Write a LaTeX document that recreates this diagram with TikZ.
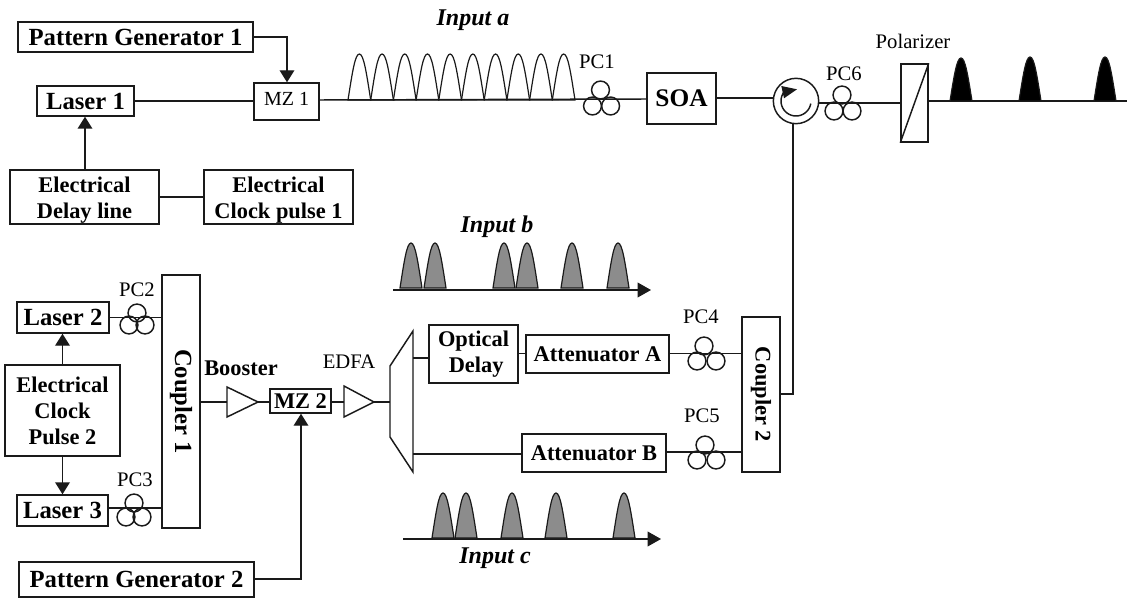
\documentclass[tikz,border=0pt]{standalone}
\usepackage{fontspec}
\setmainfont{Liberation Serif}
\usetikzlibrary{arrows.meta,calc}
\definecolor{pulsegray}{HTML}{8C8C8C}
\definecolor{ink}{HTML}{1A1A1A}
\newcommand{\boldbig}{\fontsize{16.8}{19.5}\selectfont\bfseries}
\newcommand{\boldhuge}{\fontsize{18.5}{19.5}\selectfont\bfseries}
\newcommand{\regmid}{\fontsize{15.5}{18}\selectfont}
\newcommand{\boldit}{\fontsize{18}{20}\selectfont\bfseries\itshape}
\tikzset{
  box/.style={draw=ink,line width=1.1pt,inner sep=0pt,align=center,font=\boldbig},
  lbl/.style={inner sep=0pt,font=\regmid},
  blbl/.style={inner sep=0pt,font=\boldbig},
  ilbl/.style={inner sep=0pt,font=\boldit},
  pcring/.style={draw=ink,line width=1.1pt,circle,inner sep=0pt,minimum size=13.4pt},
  wire/.style={draw=ink,line width=1.1pt},
  ctl/.style={wire,-{Triangle[length=9pt,width=11pt]}},
  axis/.style={wire,-{Triangle[length=10pt,width=11pt]}},
  ampl/.style={wire,line join=miter},
  pulseline/.style={draw=ink,line width=0.9pt},
}
% \bx{name}{x0}{x1}{y0}{y1}{text}, in pixels of the reference
\newcommand{\bx}[6]{%
  \pgfmathsetmacro{\bxw}{(#3-#2)*0.75}\pgfmathsetmacro{\bxh}{(#5-#4)*0.75}%
  \node[box,minimum width=\bxw pt,minimum height=\bxh pt] (#1) at ({(#2+#3)/2},{(#4+#5)/2}) {#6};}
% \pc{name}{x top}{y top}{x left}{x right}{y bottom}
\newcommand{\pc}[6]{%
  \node[pcring] (#1t) at (#2,#3) {};
  \node[pcring] (#1l) at (#4,#6) {};
  \node[pcring] (#1r) at (#5,#6) {};}
% \pulse{x}{base}{top}{half width}{fill}
\newcommand{\pulse}[5]{%
  \draw[pulseline,fill=#5] ({#1-#4},#2) .. controls ({#1-0.62*#4},{#2-0.6*(#2-#3)}) and ({#1-0.38*#4},#3) .. (#1,#3)
    .. controls ({#1+0.38*#4},#3) and ({#1+0.62*#4},{#2-0.6*(#2-#3)}) .. ({#1+#4},#2) -- cycle;}
\begin{document}
\begin{tikzpicture}[x=0.75pt,y=-0.75pt]
\path[fill=white] (0,0) rectangle (1127,599);
\useasboundingbox (0,0) rectangle (1127,599);

% top arm
\bx{pg1}{18}{253}{22}{52}{\boldhuge Pattern Generator 1}
\bx{las1}{37}{134}{86}{116}{\boldhuge Laser 1}
\bx{mz1}{254}{319}{83}{120}{\raisebox{3.5pt}{\fontsize{15}{17}\selectfont\mdseries MZ 1}}
\bx{del}{10}{159}{170}{224}{\rule{0pt}{16pt}Electrical\\Delay line}
\bx{clk1}{204}{353}{170}{224}{\rule{0pt}{16pt}Electrical\\Clock pulse 1}
\bx{soa}{647}{716}{73}{124}{\fontsize{19}{21}\selectfont SOA}
\node[draw=ink,line width=1.1pt,circle,inner sep=0pt,minimum size=34pt] (circ) at (796,101) {};
\bx{pol}{901}{928}{64}{142}{}
\coordinate (end) at (1127,101);
\coordinate (pg1c) at (287,37);
\coordinate (lineA) at (319,100);
\coordinate (soaL) at (647,99);
\coordinate (soaR) at (716,98);
\coordinate (polL) at (901,103);
\coordinate (circR) at (819,103);
\coordinate (polR) at (928,101);

\draw[ctl] (pg1.east |- pg1c) -- (pg1c) -- (mz1.north -| pg1c);
\draw[wire] (las1.east) -- (mz1.west |- las1.east);
\draw[ctl] (del.north -| 85,0) -- (las1.south -| 85,0);
\draw[wire] (del.east) -- (clk1.west);
\draw[wire] (lineA) -- (soaL);
\draw[wire] (soaR) -- (circ.west |- soaR);
\draw[wire] (circR) -- (polL);
\draw[wire] (polR) -- (end);
\pc{pc1}{600.5}{90}{592.5}{610.6}{106}
\pc{pc6}{842}{95}{834}{852}{111}
\draw[wire] plot[smooth,domain=-10:-215,samples=24] ({796+15*cos(\x)},{101-15*sin(\x)});
\path[fill=ink] (781.3,86) -- (797,89.3) -- (784,98.3) -- cycle;
\draw[wire] (pol.north east) -- (pol.south west);
\node[lbl] (tpc1) at (597,62) {PC1};
\node[lbl] (tpc6) at (844,74) {PC6};
\node[lbl] (tpol) at (913,41) {\fontsize{15.5}{17}\selectfont Polarizer};
\node[ilbl] (ina) at (473,20) {Input a};

% Input a pulses
\foreach \i in {0,...,9} {\pulse{359.35+22.7*\i}{100}{54}{11.35}{none}}
% output pulses
\pulse{961}{101}{58}{11}{black}
\pulse{1030}{101}{57}{11}{black}
\pulse{1105}{101}{57}{11}{black}

% input b
\node[ilbl] (inb) at (497,227) {Input b};
\coordinate (bS) at (393,290);
\coordinate (bE) at (651,290);
\draw[axis] (bS) -- (bE);
\foreach \x in {411,435,504,527,572,618} {\pulse{\x}{288}{243}{11}{pulsegray}}

% input c
\node[ilbl] (inc) at (495,558) {Input c};
\coordinate (cS) at (403,539);
\coordinate (cE) at (661,539);
\draw[axis] (cS) -- (cE);
\foreach \x in {443,466,512,556,624} {\pulse{\x}{538}{493}{11}{pulsegray}}

% lower left
\bx{las2}{17}{109}{302}{333}{\boldhuge Laser 2}
\bx{clk2}{5}{120}{365}{456}{Electrical\\Clock\\Pulse 2}
\bx{las3}{17}{108}{495}{526}{\boldhuge Laser 3}
\bx{cpl1}{162}{200}{275}{528}{\rotatebox{-90}{\boldhuge Coupler 1}}
\bx{mz2}{270}{331}{389}{413}{MZ 2}
\bx{pg2}{19}{254}{562}{597}{\boldhuge Pattern Generator 2}
\coordinate (ctop) at (62.5,365);
\coordinate (cbot) at (62.5,456);
\coordinate (l3y) at (108,508);
\draw[ctl] (ctop) -- (las2.south -| ctop);
\draw[ctl] (cbot) -- (las3.north -| cbot);
\draw[wire] (las2.east) -- (cpl1.west |- las2.east);
\draw[wire] (l3y) -- (cpl1.west |- l3y);
\pc{pc2}{137}{313}{129}{145}{325}
\pc{pc3}{134}{503}{126}{142}{517}
\node[lbl] (tpc2) at (137,290) {PC2};
\node[lbl] (tpc3) at (135,480) {PC3};
\node[blbl] (tboost) at (241,368) {Booster};
\node[lbl] (tedfa) at (349,362) {EDFA};

% amplifiers
\coordinate (b1) at (227,387); \coordinate (b2) at (227,417); \coordinate (b3) at (258,402);
\draw[ampl] (b1) -- (b2) -- (b3) -- cycle;
\coordinate (e1) at (344,386); \coordinate (e2) at (344,417); \coordinate (e3) at (374,402);
\draw[ampl] (e1) -- (e2) -- (e3) -- cycle;
\coordinate (b0) at (227,402);
\coordinate (e0) at (344,402);
\draw[wire] (cpl1.east |- b0) -- (b0);
\draw[wire] (b3) -- (mz2.west |- b3);
\draw[wire] (mz2.east |- e0) -- (e0);

% demux
\coordinate (d1) at (390,366); \coordinate (d2) at (413,331);
\coordinate (d3) at (413,472); \coordinate (d4) at (390,437);
\draw[ampl] (d1) -- (d2) -- (d3) -- (d4) -- cycle;
\coordinate (dIn) at (390,402);
\draw[wire] (e3) -- (dIn);

\coordinate (pgc) at (301,579);
\draw[ctl] (pg2.east |- pgc) -- (pgc) -- (mz2.south -| pgc);

% right part of the lower arm
\bx{opt}{429}{518}{325}{383}{Optical\\\hspace*{4pt}Delay}
\bx{atta}{526}{669}{335}{373}{Attenuator A}
\bx{attb}{522}{666}{434}{472}{Attenuator B}
\bx{cpl2}{742}{780}{317}{472}{\rotatebox{-90}{Coupler 2}}
\coordinate (dA) at (413,358);
\coordinate (dB) at (413,454);
\coordinate (yA) at (0,353.5);
\coordinate (yB) at (0,452);
\coordinate (vtop) at (793,123);
\coordinate (vbot) at (793,394);
\draw[wire] (dA) -- (opt.west |- dA);
\draw[wire] (opt.east |- yA) -- (atta.west |- yA);
\draw[wire] (atta.east |- yA) -- (cpl2.west |- yA);
\draw[wire] (dB) -- (attb.west |- dB);
\draw[wire] (attb.east |- yB) -- (cpl2.west |- yB);
\draw[wire] (cpl2.east |- vbot) -- (vbot) -- (vtop);
\pc{pc4}{704}{346}{697}{716}{361}
\pc{pc5}{705}{445}{697}{716}{460}
\node[lbl] (tpc4) at (701,317) {PC4};
\node[lbl] (tpc5) at (702,416) {PC5};
\end{tikzpicture}
\end{document}
